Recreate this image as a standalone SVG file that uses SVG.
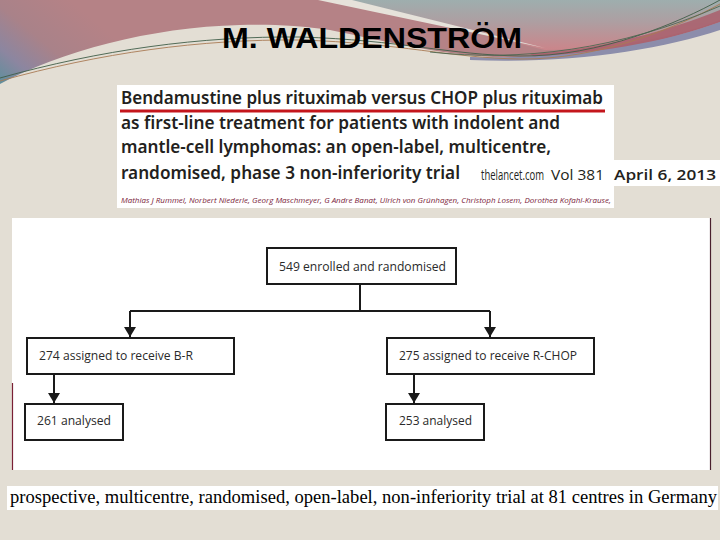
<svg xmlns="http://www.w3.org/2000/svg" width="720" height="540" viewBox="0 0 720 540">
<defs>
<linearGradient id="gLeft" gradientUnits="userSpaceOnUse" x1="70" y1="0" x2="0" y2="84">
<stop offset="0" stop-color="#B58286"/>
<stop offset="0.45" stop-color="#A98289"/>
<stop offset="0.75" stop-color="#8C86A0"/>
<stop offset="1" stop-color="#5F8F9C"/>
</linearGradient>
<linearGradient id="gRight" gradientUnits="userSpaceOnUse" x1="0" y1="0" x2="0" y2="50">
<stop offset="0" stop-color="#9EAEAE"/>
<stop offset="0.45" stop-color="#AE9EA1"/>
<stop offset="1" stop-color="#CB858A"/>
</linearGradient>
<marker id="arr" markerUnits="userSpaceOnUse" markerWidth="10" markerHeight="12" refX="10" refY="6" orient="auto">
<path d="M0,0 L10,6 L0,12 Z" fill="#1a1a1a"/>
</marker>
<style>
.box{fill:#ffffff;stroke:#1a1a1a;stroke-width:2}
.lbl{font-family:"Open Sans","Noto Sans",sans-serif;font-size:13.5px;fill:#2a2a2a}
.conn{fill:none;stroke:#1a1a1a;stroke-width:2}
.ttl{font-family:"Noto Sans","Open Sans",sans-serif;font-size:17px;font-weight:600;fill:#231F20}
.thin{fill:none;stroke-width:0.9}
.meta{font-family:"Open Sans","Noto Sans",sans-serif;font-size:14px;fill:#231F20}
</style>
</defs>

<!-- background -->
<rect x="0" y="0" width="720" height="540" fill="#E3DED4"/>

<!-- header decoration -->
<g id="header">
<path d="M0,0 H720 V28 C680,42 610,58 530,58 C450,58 400,44 330,30 C300,25 265,24 240,25 C150,27 60,52 0,84 Z" fill="url(#gLeft)"/>
<path d="M345,0 H720 V20 C680,36 610,50 545,50 Z" fill="url(#gRight)"/>
<path d="M318,0 L352,0 L545,48 Z" fill="#E6E2DA"/>
<path d="M530,54 C600,50 670,30 720,10 V22 C670,40 605,55 535,57 Z" fill="#A95F6C" opacity="0.85"/>
<path d="M470,57 C570,60 660,44 720,22 V30 C660,50 570,64 470,60 Z" fill="#8C8DAB"/>
<path class="thin" stroke="#3F5E48" d="M0,78 C100,50 200,36 300,37 C400,40 450,55 520,56 C600,57 680,22 720,0"/>
<path class="thin" stroke="#A97A55" d="M0,81 C100,53 200,39 300,40 C400,43 450,58 520,59 C600,60 680,26 720,4"/>
<path class="thin" stroke="#4C6650" d="M430,52 C520,62 620,50 720,6"/>
</g>

<text x="372" y="48" text-anchor="middle" font-family="'Liberation Sans Narrow','Liberation Sans',Arial,sans-serif" font-size="29" font-weight="bold" fill="#000" textLength="300" lengthAdjust="spacingAndGlyphs">M. WALDENSTRÖM</text>

<!-- article header panel -->
<g id="article">
<rect x="117" y="85" width="497" height="123" fill="#ffffff"/>
<rect x="614" y="160" width="106" height="26" fill="#ffffff"/>
<text class="ttl" x="121" y="104" textLength="482" lengthAdjust="spacingAndGlyphs">Bendamustine plus rituximab versus CHOP plus rituximab</text>
<line x1="120" y1="111" x2="605" y2="111" stroke="#C4161C" stroke-width="3"/>
<text class="ttl" x="121" y="129" textLength="439" lengthAdjust="spacingAndGlyphs">as first-line treatment for patients with indolent and</text>
<text class="ttl" x="121" y="153" textLength="430" lengthAdjust="spacingAndGlyphs">mantle-cell lymphomas: an open-label, multicentre,</text>
<text class="ttl" x="121" y="179" textLength="339" lengthAdjust="spacingAndGlyphs">randomised, phase 3 non-inferiority trial</text>
<text class="meta" transform="translate(481,180) scale(0.68,1)" x="0" y="0">thelancet.com</text>
<text class="meta" x="551" y="180" textLength="53" lengthAdjust="spacingAndGlyphs">Vol 381</text>
<text class="meta" x="614" y="180" font-size="15" font-weight="600" textLength="102" lengthAdjust="spacingAndGlyphs">April 6, 2013</text>
<text x="121" y="203" font-family="'Open Sans','Noto Sans',sans-serif" font-size="7.5" font-style="italic" fill="#7B1E3A" textLength="490" lengthAdjust="spacingAndGlyphs">Mathias J Rummel, Norbert Niederle, Georg Maschmeyer, G Andre Banat, Ulrich von Grünhagen, Christoph Losem, Dorothea Kofahl-Krause,</text>
</g>

<!-- flowchart panel -->
<rect x="12" y="218" width="699" height="252" fill="#ffffff"/>
<line x1="710.5" y1="218" x2="710.5" y2="470" stroke="#4A1F2E" stroke-width="1.2"/>
<line x1="12.5" y1="383" x2="12.5" y2="470" stroke="#7A2035" stroke-width="1.2"/>

<g id="connectors">
<path class="conn" d="M360,284 V311"/>
<path class="conn" d="M130,311 H490"/>
<path class="conn" d="M130,311 V337" marker-end="url(#arr)"/>
<path class="conn" d="M490,311 V337" marker-end="url(#arr)"/>
<path class="conn" d="M54,374 V403" marker-end="url(#arr)"/>
<path class="conn" d="M414,374 V403" marker-end="url(#arr)"/>
</g>

<g id="n549">
<rect class="box" x="267" y="248" width="189" height="36"/>
<text class="lbl" x="279" y="271" textLength="167" lengthAdjust="spacingAndGlyphs">549 enrolled and randomised</text>
</g>
<g id="n274">
<rect class="box" x="27" y="338" width="207" height="36"/>
<text class="lbl" x="39" y="360" textLength="154" lengthAdjust="spacingAndGlyphs">274 assigned to receive B-R</text>
</g>
<g id="n275">
<rect class="box" x="387" y="338" width="207" height="36"/>
<text class="lbl" x="399" y="360" textLength="178" lengthAdjust="spacingAndGlyphs">275 assigned to receive R-CHOP</text>
</g>
<g id="n261">
<rect class="box" x="25" y="404" width="98" height="36"/>
<text class="lbl" x="37" y="425" textLength="74" lengthAdjust="spacingAndGlyphs">261 analysed</text>
</g>
<g id="n253">
<rect class="box" x="386" y="404" width="98" height="36"/>
<text class="lbl" x="399" y="425" textLength="73" lengthAdjust="spacingAndGlyphs">253 analysed</text>
</g>

<!-- footer caption -->
<rect x="7" y="486" width="711" height="24" fill="#ffffff"/>
<text x="10" y="503" font-family="'Liberation Serif','Times New Roman',serif" font-size="18.5" fill="#000" textLength="707" lengthAdjust="spacingAndGlyphs">prospective, multicentre, randomised, open-label, non-inferiority trial at 81 centres in Germany</text>
</svg>
